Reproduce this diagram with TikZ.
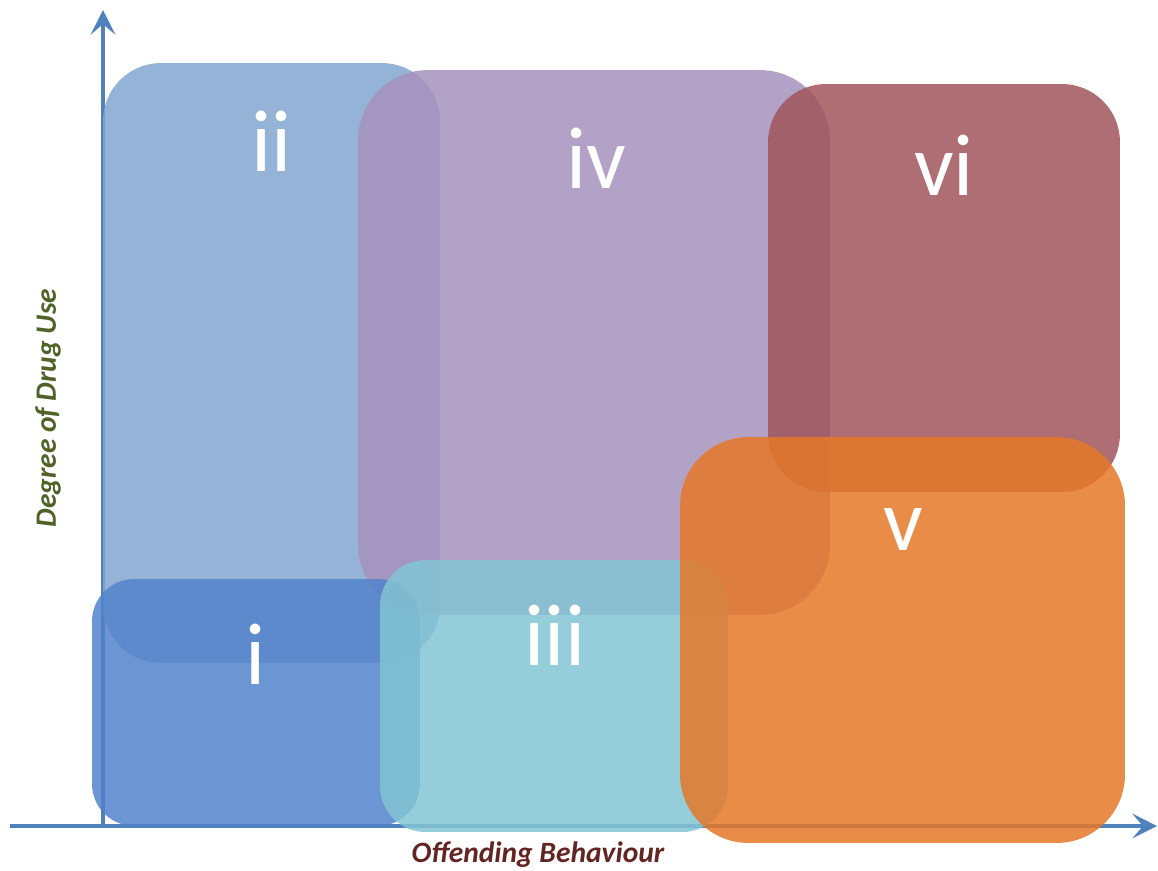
\documentclass[tikz,border=0pt]{standalone}
\usepackage{fontspec}
\setmainfont{Carlito}
\usepackage{xcolor}
\usetikzlibrary{arrows.meta}
\definecolor{axisblue}{RGB}{79,129,189}
\definecolor{boxi}{RGB}{82,131,204}
\definecolor{boxii}{RGB}{130,166,207}
\definecolor{boxiii}{RGB}{131,196,212}
\definecolor{boxiv}{RGB}{166,146,189}
\definecolor{boxv}{RGB}{228,120,40}
\definecolor{boxvi}{RGB}{160,85,90}
\definecolor{drugolive}{RGB}{79,98,40}
\definecolor{offendred}{RGB}{99,37,35}

\begin{document}
\begin{tikzpicture}[x=0.02cm, y=-0.02cm,
  zone/.style={fill opacity=0.85, inner sep=0pt, outer sep=0pt},
  roman/.style={text=white, font=\fontsize{50}{50}\selectfont, anchor=base, inner sep=0pt}]
\useasboundingbox (0,0) rectangle (1158,870);

% Axes
\coordinate (origin) at (103,826);
\coordinate (ytip) at (103,10);
\coordinate (xstart) at (10,826);
\coordinate (xtip) at (1157,826);
\draw[-{Stealth[length=14pt, width=14pt, inset=6pt]}, line width=2.6pt, color=axisblue] (origin) -- (ytip);
\draw[-{Stealth[length=14pt, width=14pt, inset=6pt]}, line width=2.6pt, color=axisblue] (xstart) -- (xtip);

% Zones
\node[zone, fill=boxii, rounded corners=33pt, minimum width=6.74cm, minimum height=12cm] (zoneii) at (271.5,363) {};
\node[zone, fill=boxiv, rounded corners=40pt, minimum width=9.44cm, minimum height=10.9cm] (zoneiv) at (594,342.5) {};
\node[zone, fill=boxi, rounded corners=24pt, minimum width=6.56cm, minimum height=4.94cm] (zonei) at (256,702.5) {};
\node[zone, fill=boxiii, rounded corners=26pt, minimum width=6.96cm, minimum height=5.44cm] (zoneiii) at (554,696) {};
\node[zone, fill=boxvi, rounded corners=33pt, minimum width=7.04cm, minimum height=8.16cm] (zonevi) at (944,288) {};
\node[zone, fill=boxv, rounded corners=39pt, minimum width=8.9cm, minimum height=8.12cm] (zonev) at (902.5,640) {};

% Zone numbers
\node[roman] (labii) at (272,171) {ii};
\node[roman] (labiv) at (596,188) {iv};
\node[roman] (labvi) at (944,195) {vi};
\node[roman] (labv) at (903,550) {v};
\node[roman] (labi) at (256,684) {i};
\node[roman] (labiii) at (555,665) {iii};

% Axis titles
\node[rotate=90, text=drugolive, font=\fontsize{16.8}{17}\selectfont\bfseries\itshape] (ytitle) at (48,408) {Degree of Drug Use};
\node[text=offendred, font=\fontsize{16.8}{17}\selectfont\bfseries\itshape] (xtitle) at (538,855) {Offending Behaviour};
\end{tikzpicture}
\end{document}
